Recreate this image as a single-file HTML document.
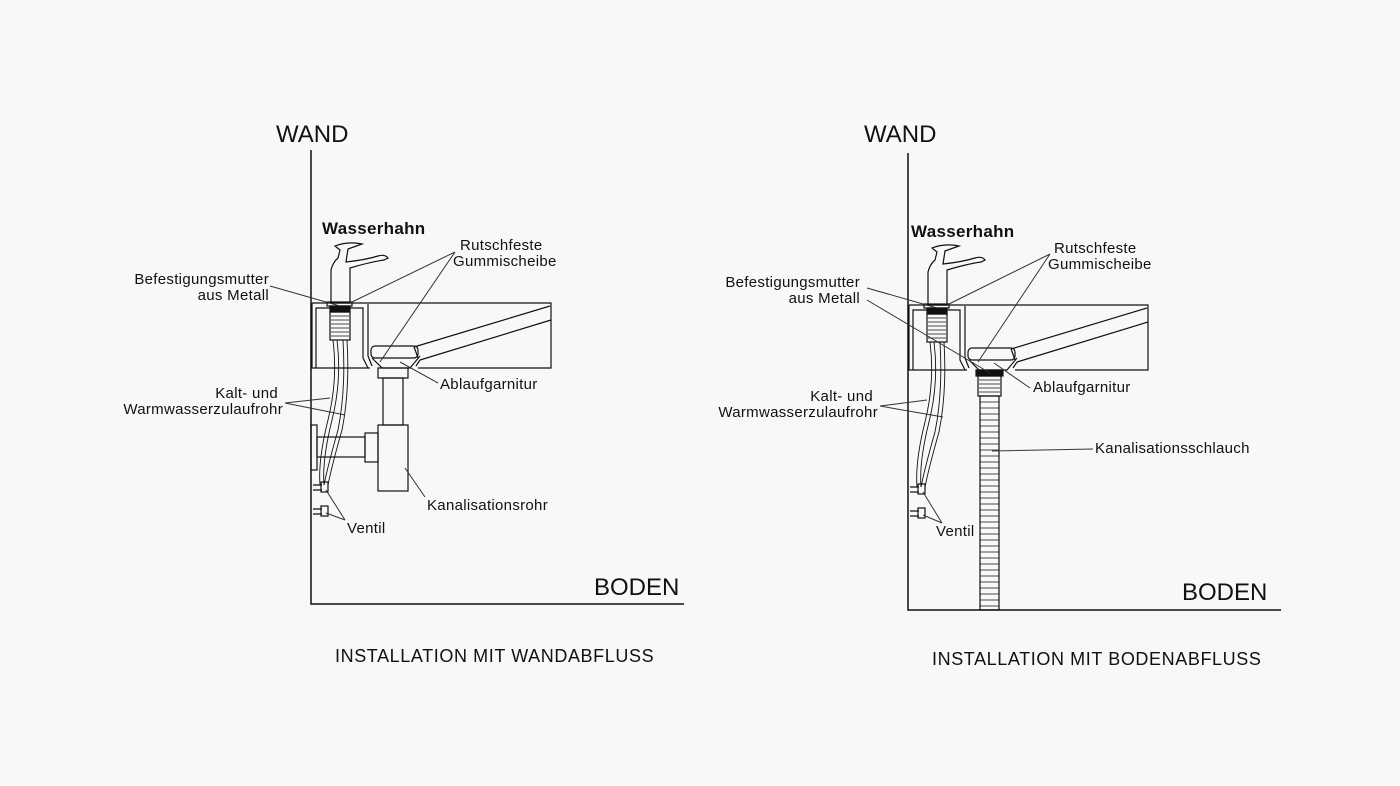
<!DOCTYPE html><html><head><style>body{margin:0;background:#f7f8fa}svg{display:block}text{font-family:"Liberation Sans",sans-serif;fill:#111}.l{font-size:15px;letter-spacing:.3px}</style></head><body>
<svg width="1400" height="786" viewBox="0 0 1400 786" xmlns="http://www.w3.org/2000/svg">
<rect width="1400" height="786" fill="#f7f8fa"/>
<defs>
<g id="common" fill="none" stroke="#111" stroke-width="1.2">
<path d="M312 303H551V368H418M370 368H312V303" fill="#f7f8fa"/>
<path d="M316 368V308H363V358L368 368M368 304V356L372 366"/>
<path d="M414 347L550 306M420 360L551 320M414 347Q416 352 418 358M420 360L416 366"/>
<path d="M372 358L382 368H410L420 356"/>
<rect x="371" y="346" width="47" height="12" rx="4"/>
<path d="M331 303V270Q333 262 338 258L340 250L335 246Q348 241 362 244L348 249L346 262Q365 260 378 256Q385 254 388 258L384 260Q370 262 350 268V303Z" fill="#f7f8fa"/>
<rect x="327" y="302" width="25" height="4"/>
<rect x="330" y="306" width="20" height="6" fill="#111"/>
<rect x="330" y="312" width="20" height="28"/>
<path d="M331 316H349M331 320H349M331 324H349M331 328H349M331 332H349M331 336H349" stroke-width=".7"/>
<path d="M333 340Q338 380 328 420Q318 460 320 485M337 340Q342 380 332 420Q322 460 324 485M343 340Q346 390 338 430Q328 465 324 485M347 340Q350 390 342 430Q332 465 328 485" stroke-width=".9"/>
<path d="M313 485H322M313 490H322M313 509H322M313 514H322" />
<rect x="321" y="482" width="7" height="10"/><rect x="321" y="506" width="7" height="10"/>
</g>
</defs>
<!-- LEFT -->
<path d="M311 150V604H684" fill="none" stroke="#111" stroke-width="1.5"/>
<use href="#common"/>
<g fill="none" stroke="#111" stroke-width="1.2">
<rect x="378" y="368" width="30" height="10"/><rect x="383" y="378" width="20" height="47"/>
<rect x="378" y="425" width="30" height="66"/>
<rect x="317" y="437" width="48" height="20"/><rect x="365" y="433" width="13" height="29"/>
<rect x="311" y="425" width="6" height="45"/>
</g>
<g stroke="#333" stroke-width="1" fill="none">
<path d="M270 286L340 306M455 252L350 303M455 252L380 362M438 383L400 362M285 403L330 398M285 403L345 415M425 497L405 468M345 520L326 490M345 520L326 513"/>
</g>
<text x="276" y="142" font-size="24">WAND</text>
<text x="322" y="234" font-size="17" font-weight="bold" letter-spacing=".3">Wasserhahn</text>
<text x="460" y="250" class="l">Rutschfeste</text>
<text x="453" y="266" class="l">Gummischeibe</text>
<text x="269" y="284" class="l" text-anchor="end">Befestigungsmutter</text>
<text x="269" y="300" class="l" text-anchor="end">aus Metall</text>
<text x="440" y="389" class="l">Ablaufgarnitur</text>
<text x="278" y="398" class="l" text-anchor="end">Kalt- und</text>
<text x="283" y="414" class="l" text-anchor="end">Warmwasserzulaufrohr</text>
<text x="427" y="510" class="l">Kanalisationsrohr</text>
<text x="347" y="533" class="l">Ventil</text>
<text x="594" y="595" font-size="24">BODEN</text>
<text x="335" y="662" font-size="18" letter-spacing=".6">INSTALLATION MIT WANDABFLUSS</text>
<!-- RIGHT -->
<path d="M908 153V610H1281" fill="none" stroke="#111" stroke-width="1.5"/>
<use href="#common" transform="translate(597,2)"/>
<g fill="none" stroke="#111" stroke-width="1.2">
<rect x="976" y="370" width="27" height="6" fill="#111"/>
<rect x="978" y="376" width="23" height="20"/>
<path d="M979 380H1000M979 384H1000M979 388H1000M979 392H1000" stroke-width=".7"/>
<rect x="980" y="396" width="19" height="214"/>
<path d="M980 402H999M980 408H999M980 414H999M980 420H999M980 426H999M980 432H999M980 438H999M980 444H999M980 450H999M980 456H999M980 462H999M980 468H999M980 474H999M980 480H999M980 486H999M980 492H999M980 498H999M980 504H999M980 510H999M980 516H999M980 522H999M980 528H999M980 534H999M980 540H999M980 546H999M980 552H999M980 558H999M980 564H999M980 570H999M980 576H999M980 582H999M980 588H999M980 594H999M980 600H999M980 606H999" stroke-width=".7"/>
</g>
<g stroke="#333" stroke-width="1" fill="none">
<path d="M867 288L937 308M867 300L990 373M1050 254L947 305M1050 254L978 362M1030 388L994 363M880 406L927 400M880 406L943 417M1093 449L992 451M942 523L923 492M942 523L923 515"/>
</g>
<text x="864" y="142" font-size="24">WAND</text>
<text x="911" y="237" font-size="17" font-weight="bold" letter-spacing=".3">Wasserhahn</text>
<text x="1054" y="253" class="l">Rutschfeste</text>
<text x="1048" y="269" class="l">Gummischeibe</text>
<text x="860" y="287" class="l" text-anchor="end">Befestigungsmutter</text>
<text x="860" y="303" class="l" text-anchor="end">aus Metall</text>
<text x="1033" y="392" class="l">Ablaufgarnitur</text>
<text x="873" y="401" class="l" text-anchor="end">Kalt- und</text>
<text x="878" y="417" class="l" text-anchor="end">Warmwasserzulaufrohr</text>
<text x="1095" y="453" class="l">Kanalisationsschlauch</text>
<text x="936" y="536" class="l">Ventil</text>
<text x="1182" y="600" font-size="24">BODEN</text>
<text x="932" y="665" font-size="18" letter-spacing=".6">INSTALLATION MIT BODENABFLUSS</text>
</svg>
</body></html>
